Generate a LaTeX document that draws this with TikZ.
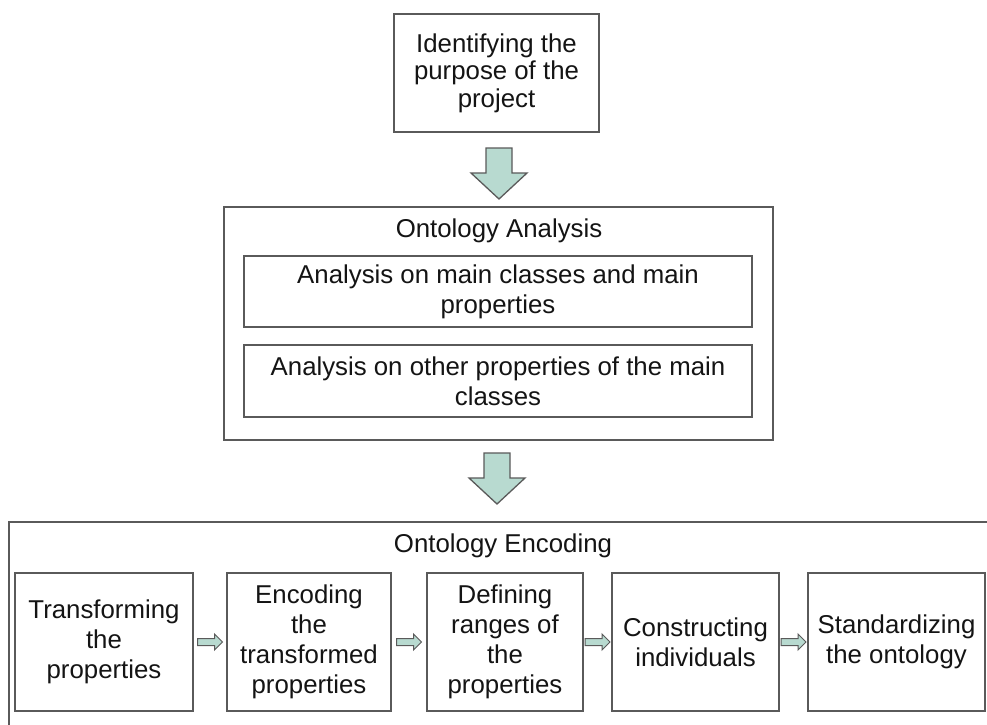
\documentclass[tikz,border=0pt]{standalone}
\usepackage{fontspec}
\setmainfont{Liberation Sans}
\usetikzlibrary{calc}
\begin{document}
\begin{tikzpicture}[x=1pt,y=-1pt,
  box/.style={draw=linegray, line width=1.5pt, fill=white, inner sep=0pt, align=center,
    text=textcol, font=\fontsize{25.8}{30}\selectfont},
  bigarr/.style={draw=linegray, line width=1.3pt, fill=arrfill, line join=miter},
  smallarr/.style={draw=linegray, line width=1pt, fill=arrfill, line join=miter},
  title/.style={inner sep=0pt, text=textcol, font=\fontsize{25.8}{30}\selectfont}]
\definecolor{linegray}{RGB}{90,90,90}
\definecolor{arrfill}{RGB}{184,218,208}
\definecolor{textcol}{RGB}{20,20,20}
\useasboundingbox (0,0) rectangle (987,724);
\clip (0,0) rectangle (987,724);
\fill[white] (0,0) rectangle (987,724);

% top box
\node[box, minimum width=205, minimum height=118, font=\fontsize{25.8}{27.5}\selectfont] (purpose) at (496.5,73)
  {Identifying the\\purpose of the\\project};

% ontology analysis
\node[box, minimum width=549, minimum height=233] (analysis) at (498.5,323.5) {};
\node[title, anchor=base] (antitle) at (499,237) {Ontology Analysis};
\node[box, minimum width=508, minimum height=71] (mainc) at (498,291.5)
  {Analysis on main classes and main\\properties};
\node[box, minimum width=508, minimum height=72] (otherp) at (498,381)
  {Analysis on other properties of the main\\classes};

% ontology encoding
\node[box, minimum width=1000, minimum height=240, anchor=north west] (encoding) at (8,521) {};
\node[title, anchor=base] (entitle) at (503,552) {Ontology Encoding};

\node[box, minimum width=178, minimum height=138] (t1) at (104,642)
  {Transforming\\the\\properties};
\node[box, minimum width=164, minimum height=138] (t2) at (309,642)
  {Encoding\\the\\transformed\\properties};
\node[box, minimum width=156, minimum height=138] (t3) at (505,642)
  {Defining\\ranges of\\the\\properties};
\node[box, minimum width=167, minimum height=138] (t4) at (695.5,642)
  {Constructing\\individuals};
\node[box, minimum width=177, minimum height=138] (t5) at (896.5,642)
  {Standardizing\\the ontology};

% big arrows
\coordinate (a1) at (499,148);
\coordinate (a2) at (497,453);
\foreach \c in {a1,a2}{
  \draw[bigarr] (\c) ++(-13,0) -- ++(26,0) -- ++(0,25) -- ++(15,0) -- ++(-28,26)
    -- ++(-28,-26) -- ++(15,0) -- cycle;
}

% small arrows between steps
\foreach \a/\b in {t1/t2,t2/t3,t3/t4,t4/t5}{
  \coordinate (s) at ($($(\a.east)!0.5!(\b.west)$)+(-12.5,0)$);
  \draw[smallarr] (s) ++(0,-3.5) -- ++(17,0) -- ++(0,-4.5) -- ++(8,8) -- ++(-8,8)
    -- ++(0,-4.5) -- ++(-17,0) -- cycle;
}
\end{tikzpicture}
\end{document}
